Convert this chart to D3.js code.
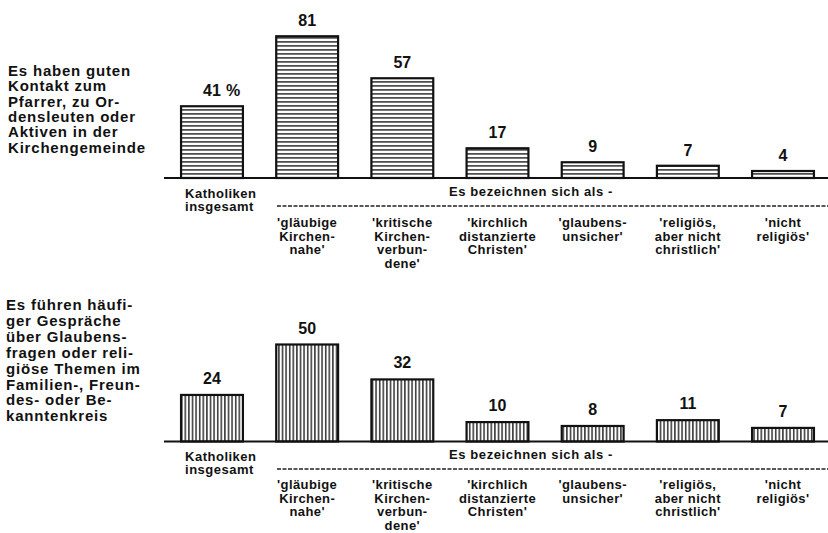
<!DOCTYPE html>
<html>
<head>
<meta charset="utf-8">
<script src="https://cdn.jsdelivr.net/npm/d3@7"></script>
<style>
  html, body { margin: 0; padding: 0; background: #fff; }
  svg { display: block; }
  text { font-family: "Liberation Sans", Arial, Helvetica, sans-serif; font-weight: bold; fill: #111; }
</style>
</head>
<body>
<svg id="chart" width="828" height="533"></svg>
<script>
// ---- data ----
const categories = ["Katholiken insgesamt", "gläubige Kirchennahe", "kritische Kirchenverbundene",
  "kirchlich distanzierte Christen", "glaubensunsicher", "religiös, aber nicht christlich", "nicht religiös"];
const categoryLabels = [
  ["Katholiken", "insgesamt"],
  ["'gläubige", "Kirchen-", "nahe'"],
  ["'kritische", "Kirchen-", "verbun-", "dene'"],
  ["'kirchlich", "distanzierte", "Christen'"],
  ["'glaubens-", "unsicher'"],
  ["'religiös,", "aber nicht", "christlich'"],
  ["'nicht", "religiös'"]
];
const contactValues = [41, 81, 57, 17, 9, 7, 4];
const talkValues = [24, 50, 32, 10, 8, 11, 7];
const groupHeading = "Es bezeichnen sich als -";
const contactTitle = ["Es haben guten", "Kontakt zum", "Pfarrer, zu Or-", "densleuten oder", "Aktiven in der", "Kirchengemeinde"];
const talkTitle = ["Es führen häufi-", "ger Gespräche", "über Glaubens-", "fragen oder reli-", "giöse Themen im", "Familien-, Freun-", "des- oder Be-", "kanntenkreis"];
const unitSuffix = "%";

// ---- layout ----
const svg = d3.select("#chart");
const defs = svg.append("defs");

const hp = defs.append("pattern").attr("id", "hstripe").attr("patternUnits", "userSpaceOnUse")
  .attr("width", 8).attr("height", 4);
hp.append("rect").attr("width", 8).attr("height", 4).attr("fill", "#fff");
hp.append("rect").attr("y", 1.2).attr("width", 8).attr("height", 1.4).attr("fill", "#222");

const vp = defs.append("pattern").attr("id", "vstripe").attr("patternUnits", "userSpaceOnUse")
  .attr("width", 3.6).attr("height", 8);
vp.append("rect").attr("width", 3.6).attr("height", 8).attr("fill", "#fff");
vp.append("rect").attr("x", 1).attr("width", 1.4).attr("height", 8).attr("fill", "#222");

const x = d3.scaleBand().domain(categories).range([164.4, 830.6]).paddingInner(0.35).paddingOuter(0.175);

const panels = [
  { title: contactTitle, titleX: 8, titleY: 75.7, titleStep: 15.4, values: contactValues, base: 178, pxPerUnit: 1.75,
    fill: "url(#hstripe)", labelGap: 10, dashY: 206, headY: 196, katY: 197.7, rowY: 227, rowStep: 13.7 },
  { title: talkTitle, titleX: 6, titleY: 310, titleStep: 15.9, values: talkValues, base: 441.5, pxPerUnit: 1.94,
    fill: "url(#vstripe)", labelGap: 11, dashY: 469, headY: 459, katY: 460.5, rowY: 489, rowStep: 13.6 }
];

panels.forEach((p, pi) => {
  const y = d3.scaleLinear().domain([0, 100]).range([p.base, p.base - 100 * p.pxPerUnit]);
  const g = svg.append("g");

  // title
  g.append("text").attr("x", p.titleX).attr("y", p.titleY)
    .style("font-size", "15px").style("letter-spacing", "0.8px")
    .selectAll("tspan").data(p.title).join("tspan")
    .attr("x", p.titleX).attr("y", (d, i) => p.titleY + i * p.titleStep).text(d => d);

  // bars
  g.selectAll("rect.bar").data(p.values).join("rect").attr("class", "bar")
    .attr("x", (d, i) => x(categories[i]))
    .attr("width", x.bandwidth())
    .attr("y", d => y(d))
    .attr("height", d => y(0) - y(d))
    .attr("fill", p.fill)
    .attr("stroke", "#111").attr("stroke-width", 2.2);

  // baseline
  g.append("line").attr("x1", 164).attr("x2", 828).attr("y1", y(0)).attr("y2", y(0))
    .attr("stroke", "#111").attr("stroke-width", 2.2);

  // value labels
  g.selectAll("text.val").data(p.values).join("text").attr("class", "val")
    .attr("x", (d, i) => x(categories[i]) + x.bandwidth() / 2)
    .attr("y", d => y(d) - p.labelGap)
    .attr("text-anchor", "middle")
    .style("font-size", "16px")
    .text(d => d);
  if (pi === 0) {
    const first = g.select("text.val").node();
    const bb = first.getBBox();
    g.append("text").attr("x", bb.x + bb.width + 5).attr("y", y(p.values[0]) - p.labelGap)
      .style("font-size", "16px").text(unitSuffix);
  }

  // first category (total)
  g.append("text").style("font-size", "13px").style("letter-spacing", "0.5px")
    .selectAll("tspan").data(categoryLabels[0]).join("tspan")
    .attr("x", x(categories[0]) + 4)
    .attr("y", (d, i) => p.katY + i * 13.5).text(d => d);

  // group heading & dashed rule
  g.append("text").attr("x", 449).attr("y", p.headY)
    .style("font-size", "13px").style("letter-spacing", "0.6px").text(groupHeading);
  g.append("line").attr("x1", 277).attr("x2", 828).attr("y1", p.dashY).attr("y2", p.dashY)
    .attr("stroke", "#222").attr("stroke-width", 1.6).attr("stroke-dasharray", "4,1.5");

  // subgroup labels
  categoryLabels.slice(1).forEach((lines, k) => {
    const cat = categories[k + 1];
    g.append("text").attr("text-anchor", "middle")
      .style("font-size", "13px").style("letter-spacing", "0.4px")
      .selectAll("tspan").data(lines).join("tspan")
      .attr("x", x(cat) + x.bandwidth() / 2)
      .attr("y", (d, i) => p.rowY + i * p.rowStep).text(d => d);
  });
});
</script>
</body>
</html>
